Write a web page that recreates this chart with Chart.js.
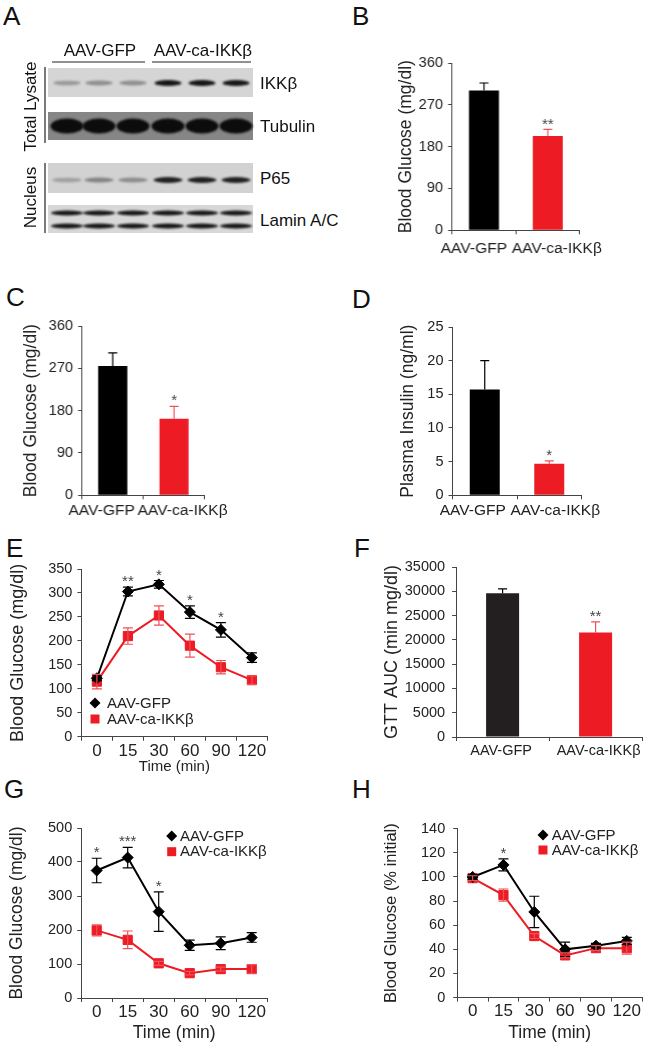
<!DOCTYPE html>
<html>
<head>
<meta charset="utf-8">
<script src="https://cdn.jsdelivr.net/npm/chart.js@4.4.1/dist/chart.umd.min.js"></script>
<style>
  body { margin: 0; background: #fff; }
  #page { position: relative; width: 650px; height: 1048px; overflow: hidden;
          font-family: "Liberation Sans", Arial, sans-serif; color: #111; }
  .box { position: absolute; }
  .txt { position: absolute; white-space: nowrap; line-height: 1; }
</style>
</head>
<body>
<div id="page"></div>
<script>
// ---- data ----
const groups = ['AAV-GFP', 'AAV-ca-IKKβ'];
const timeLabels = ['0', '15', '30', '60', '90', '120'];

// B: blood glucose
const glucoseB = [301, 203];
const glucoseBErr = [16, 14];
const starsB = ['', '**'];

// C: blood glucose
const glucoseC = [275, 163];
const glucoseCErr = [28, 26];
const starsC = ['', '*'];

// D: plasma insulin
const insulinD = [15.7, 4.7];
const insulinDErr = [4.3, 0.4];
const starsD = ['', '*'];

// E: glucose tolerance
const gttGfp = [122, 303, 318, 260, 223, 165];
const gttGfpErr = [5, 9, 8, 13, 15, 10];
const gttCa = [115, 210, 253, 190, 145, 118];
const gttCaErr = [15, 17, 20, 24, 14, 9];
const starsE = ['', '**', '*', '*', '*', ''];

// F: GTT area under curve
const aucF = [29600, 21500];
const aucFErr = [900, 2200];
const starsF = ['', '**'];

// G: insulin tolerance
const ittGfp = [375, 413, 254, 155, 161, 178];
const ittGfpErr = [36, 30, 58, 15, 19, 14];
const ittCa = [199, 171, 102, 73, 85, 85];
const ittCaErr = [16, 26, 6, 5, 6, 13];
const starsG = ['*', '***', '*', '', '', ''];

// H: insulin tolerance, % initial
const ittPctGfp = [100, 110, 71, 40, 43, 47];
const ittPctGfpErr = [2, 5, 13, 6, 2, 3];
const ittPctCa = [99, 85, 51, 35, 41, 41];
const ittPctCaErr = [2, 5, 2, 2, 2, 5];
const starsH = ['', '*', '', '', '', ''];

// A: western blot band intensities per lane (3 GFP, 3 ca-IKKβ)
const bandIKK = [0.3, 0.35, 0.35, 0.95, 0.95, 0.95];
const bandTubulin = [1, 1, 1, 1, 1, 1];
const bandP65 = [0.25, 0.4, 0.35, 0.9, 0.9, 0.9];
const bandLamin = [0.95, 0.95, 0.95, 0.95, 0.95, 0.95];

const BLACK = '#000000';
const RED = '#ed1c24';
const RED_ERR = '#f0505a';
const AXIS = '#444';
const FONT = '"Liberation Sans", Arial, sans-serif';
Chart.defaults.font.family = FONT;
Chart.defaults.color = '#222';

const page = document.getElementById('page');

function addText(str, x, y, size, opts = {}) {
  const d = document.createElement('div');
  d.className = 'txt';
  d.textContent = str;
  d.style.fontSize = size + 'px';
  if (opts.rotate) {
    d.style.width = '300px';
    d.style.textAlign = 'center';
    d.style.left = (x - 150) + 'px';
    d.style.top = (y - size * 0.5) + 'px';
    d.style.transform = 'rotate(-90deg)';
  } else if (opts.center) {
    d.style.width = '200px';
    d.style.textAlign = 'center';
    d.style.left = (x - 100) + 'px';
    d.style.top = (y - size * 0.49) + 'px';
  } else {
    d.style.left = x + 'px';
    d.style.top = (y - size * 0.49) + 'px';
  }
  page.appendChild(d);
}

// panel letters (x, baseline)
[['A', 3, 25], ['B', 352, 25], ['C', 6, 306], ['D', 352, 308],
 ['E', 6, 557], ['F', 354, 557], ['G', 4, 798], ['H', 352, 798]].forEach(([t, x, b]) => {
  addText(t, x, b - 0.36 * 26, 26);
});

// ---- panel A: blot ----
const laneX = [67, 99, 133, 168, 202, 236];
const blots = [
  {y0: 68, y1: 97, bg: '#d5d5d5', bands: [{y: 83, h: 6, w: 27, v: bandIKK}]},
  {y0: 112, y1: 140, bg: '#868686', bands: [{y: 126, h: 15, w: 33, v: bandTubulin}]},
  {y0: 163, y1: 193, bg: '#d2d2d2', bands: [{y: 180, h: 6, w: 29, v: bandP65}]},
  {y0: 205, y1: 233, bg: '#d8d8d8', bands: [{y: 213, h: 5, w: 32, v: bandLamin}, {y: 226, h: 5, w: 32, v: bandLamin}]}
];
(function drawBlot() {
  const c = document.createElement('canvas');
  c.width = 260; c.height = 250;
  c.className = 'box';
  c.style.left = '0px'; c.style.top = '0px';
  page.appendChild(c);
  const ctx = c.getContext('2d');
  blots.forEach(b => {
    ctx.fillStyle = b.bg;
    ctx.fillRect(48, b.y0, 205, b.y1 - b.y0);
    b.bands.forEach(band => {
      ctx.save();
      ctx.filter = 'blur(1.2px)';
      laneX.forEach((x, i) => {
        const v = band.v[i];
        ctx.fillStyle = 'rgba(12,12,12,' + v + ')';
        ctx.beginPath();
        ctx.ellipse(x, band.y, band.w / 2, band.h / 2 * (0.7 + 0.3 * v), 0, 0, Math.PI * 2);
        ctx.fill();
      });
      ctx.restore();
    });
  });
  ctx.strokeStyle = '#222';
  ctx.lineWidth = 1.2;
  ctx.beginPath();
  ctx.moveTo(52, 62); ctx.lineTo(145, 62);
  ctx.moveTo(152, 62); ctx.lineTo(251, 62);
  ctx.moveTo(45, 67); ctx.lineTo(45, 143);
  ctx.moveTo(45, 163); ctx.lineTo(45, 233);
  ctx.stroke();
})();
addText(groups[0], 100, 50, 17, {center: true});
addText(groups[1], 203, 50, 17, {center: true});
addText('IKKβ', 260, 83, 17);
addText('Tubulin', 260, 126, 17);
addText('P65', 260, 178, 17);
addText('Lamin A/C', 260, 220, 17);
addText('Total Lysate', 30, 106, 17, {rotate: true});
addText('Nucleus', 30, 197, 17, {rotate: true});

// ---- plugins ----
// error bars: one-sided (up) on bars, both sides on line points
const errorBars = {
  id: 'errorBars',
  afterDatasetsDraw(chart) {
    const ctx = chart.ctx;
    const y = chart.scales.y;
    chart.data.datasets.forEach((ds, i) => {
      if (!ds.err) return;
      const meta = chart.getDatasetMeta(i);
      ctx.save();
      ctx.lineWidth = 1.2;
      meta.data.forEach((el, j) => {
        const v = ds.data[j], e = ds.err[j];
        ctx.strokeStyle = Array.isArray(ds.errColor) ? ds.errColor[j] : ds.errColor;
        const x = el.x;
        const top = y.getPixelForValue(v + e);
        const bot = ds.errBoth ? y.getPixelForValue(v - e) : y.getPixelForValue(v);
        const cap = ds.cap / 2;
        ctx.beginPath();
        ctx.moveTo(x, bot); ctx.lineTo(x, top);
        ctx.moveTo(x - cap, top); ctx.lineTo(x + cap, top);
        if (ds.errBoth) { ctx.moveTo(x - cap, bot); ctx.lineTo(x + cap, bot); }
        ctx.stroke();
      });
      ctx.restore();
    });
  }
};

const stars = {
  id: 'stars',
  afterDatasetsDraw(chart, args, opts) {
    if (!opts.labels) return;
    const ctx = chart.ctx;
    const y = chart.scales.y;
    const meta0 = chart.getDatasetMeta(0);
    ctx.save();
    ctx.fillStyle = '#444';
    ctx.font = '15px ' + FONT;
    ctx.textAlign = 'center';
    ctx.textBaseline = 'alphabetic';
    opts.labels.forEach((s, j) => {
      if (!s) return;
      let top = Infinity;
      chart.data.datasets.forEach(ds => {
        top = Math.min(top, y.getPixelForValue(ds.data[j] + (ds.err ? ds.err[j] : 0)));
      });
      ctx.fillText(s, meta0.data[j].x, top - 9.5 + 0.57 * 15);
    });
    ctx.restore();
  }
};

// category names under the bars, nudged apart as in the figure
const catLabels = {
  id: 'catLabels',
  afterDraw(chart, args, opts) {
    if (!opts.offsets) return;
    const ctx = chart.ctx;
    const x = chart.scales.x;
    ctx.save();
    ctx.fillStyle = '#222';
    ctx.font = opts.size + 'px ' + FONT;
    ctx.textAlign = 'center';
    ctx.textBaseline = 'middle';
    chart.data.labels.forEach((lab, j) => {
      ctx.fillText(lab, x.getPixelForValue(j) + opts.offsets[j], chart.chartArea.bottom + opts.dy);
    });
    ctx.restore();
  }
};

const insetLegend = {
  id: 'insetLegend',
  afterDraw(chart, args, opts) {
    if (!opts.x) return;
    const ctx = chart.ctx;
    const left = chart.canvas.parentNode.offsetLeft;
    const topOff = chart.canvas.parentNode.offsetTop;
    ctx.save();
    ctx.font = opts.size + 'px ' + FONT;
    ctx.textBaseline = 'middle';
    chart.data.datasets.forEach((ds, i) => {
      const cx = opts.x - left, cy = opts.y + i * opts.gap - topOff;
      ctx.fillStyle = ds.backgroundColor;
      ctx.beginPath();
      if (ds.pointStyle === 'rectRot') {
        ctx.moveTo(cx - 5.5, cy); ctx.lineTo(cx, cy - 5.5); ctx.lineTo(cx + 5.5, cy); ctx.lineTo(cx, cy + 5.5);
      } else {
        ctx.rect(cx - 4.5, cy - 4.5, 9, 9);
      }
      ctx.closePath();
      ctx.fill();
      ctx.fillStyle = '#222';
      ctx.fillText(ds.label, opts.textX - left, cy + 0.5);
    });
    ctx.restore();
  }
};

// ---- chart builder ----
function panel(plot, yt, xH, build) {
  const left = yt.x - 0.6 * yt.size;
  const top = plot.t - 16;
  const right = plot.r + 26;
  const div = document.createElement('div');
  div.className = 'box';
  div.style.left = left + 'px';
  div.style.top = top + 'px';
  div.style.width = (right - left) + 'px';
  div.style.height = (plot.b + xH - top) + 'px';
  const canvas = document.createElement('canvas');
  div.appendChild(canvas);
  page.appendChild(div);
  const cfg = build();
  cfg.options.responsive = true;
  cfg.options.maintainAspectRatio = false;
  cfg.options.animation = false;
  cfg.options.layout = {padding: {left: 0, top: 16, right: 26, bottom: 0}};
  const ys = cfg.options.scales.y;
  ys.title = {display: true, text: yt.text, font: {size: yt.size, lineHeight: 1.2}, padding: 0, color: '#222'};
  ys.afterFit = s => { s.width = plot.l - left; };
  cfg.options.scales.x.afterFit = s => { s.height = xH; };
  cfg.plugins = [errorBars, stars, catLabels, insetLegend];
  return new Chart(canvas, cfg);
}

function yAxis(min, max, step, pad) {
  return {
    min: min, max: max,
    ticks: {stepSize: step, font: {size: 14.5}, padding: pad, callback: v => String(v)},
    grid: {drawOnChartArea: false, drawTicks: true, tickLength: 4, color: AXIS},
    border: {color: AXIS, width: 1}
  };
}

function xAxis(size, pad, title, titleSize) {
  const ax = {
    offset: true,
    ticks: {font: {size: size}, padding: pad, maxRotation: 0, autoSkip: false},
    grid: {offset: true, drawOnChartArea: false, drawTicks: true, tickLength: 4, color: AXIS},
    border: {color: AXIS, width: 1}
  };
  if (title) ax.title = {display: true, text: title, font: {size: titleSize, lineHeight: 1.2}, padding: 0, color: '#222'};
  return ax;
}

function barChart(values, errs, starLabels, yMax, step, yPad, labelOpts, barPct, darkColor) {
  const x = xAxis(labelOpts.size, 0);
  x.ticks.display = false;
  return {
    type: 'bar',
    data: {
      labels: groups,
      datasets: [{
        data: values,
        err: errs,
        errColor: [BLACK, RED_ERR],
        backgroundColor: [darkColor, RED],
        barPercentage: barPct,
        categoryPercentage: 1,
        cap: 9
      }]
    },
    options: {
      plugins: {legend: {display: false}, tooltip: {enabled: false},
                stars: {labels: starLabels}, catLabels: labelOpts},
      scales: {x: x, y: yAxis(0, yMax, step, yPad)}
    }
  };
}

function lineChart(gfp, gfpErr, ca, caErr, starLabels, yMax, step, yPad, xTitleSize, legend) {
  return {
    type: 'line',
    data: {
      labels: timeLabels,
      datasets: [
        {label: groups[0], data: gfp, err: gfpErr, errBoth: true, errColor: BLACK, cap: 10,
         borderColor: BLACK, backgroundColor: BLACK, borderWidth: 2, tension: 0,
         pointStyle: 'rectRot', pointRadius: 5.5, pointBorderWidth: 1, pointBackgroundColor: BLACK, pointBorderColor: BLACK},
        {label: groups[1], data: ca, err: caErr, errBoth: true, errColor: RED_ERR, cap: 10,
         borderColor: RED, backgroundColor: RED, borderWidth: 2, tension: 0,
         pointStyle: 'rect', pointRadius: 6.5, pointBorderWidth: 1, pointBackgroundColor: RED, pointBorderColor: RED}
      ]
    },
    options: {
      plugins: {legend: {display: false}, tooltip: {enabled: false}, stars: {labels: starLabels}, insetLegend: legend},
      scales: {x: xAxis(17, 0, 'Time (min)', xTitleSize), y: yAxis(0, yMax, step, yPad)}
    }
  };
}

// B
panel({l: 452, t: 62.7, r: 579, b: 230}, {x: 406.7, size: 17.5, text: 'Blood Glucose (mg/dl)'}, 40,
  () => barChart(glucoseB, glucoseBErr, starsB, 360, 90, 5, {offsets: [-10, 9], dy: 18, size: 15.5}, 0.47, BLACK));
// C
panel({l: 82, t: 325.7, r: 204, b: 495}, {x: 31.7, size: 17.5, text: 'Blood Glucose (mg/dl)'}, 36,
  () => barChart(glucoseC, glucoseCErr, starsC, 360, 90, 5, {offsets: [-11, 8.5], dy: 15, size: 15.5}, 0.475, BLACK));
// D
panel({l: 452, t: 326.7, r: 581, b: 495}, {x: 408, size: 17.5, text: 'Plasma Insulin (ng/ml)'}, 36,
  () => barChart(insulinD, insulinDErr, starsD, 25, 5, 5, {offsets: [-12, 6], dy: 15, size: 15.5}, 0.465, BLACK));
// E
panel({l: 81, t: 569, r: 267, b: 736.7}, {x: 17.4, size: 18, text: 'Blood Glucose (mg/dl)'}, 39.3,
  () => lineChart(gttGfp, gttGfpErr, gttCa, gttCaErr, starsE, 350, 50, 5, 15,
    {x: 95, textX: 107, y: 703, gap: 16, size: 15}));
// F
panel({l: 456, t: 566.7, r: 642, b: 736.7}, {x: 391.7, size: 18, text: 'GTT AUC (min mg/dl)'}, 36,
  () => barChart(aucF, aucFErr, starsF, 35000, 5000, 7, {offsets: [-1.5, 3], dy: 13.5, size: 14.5}, 0.355, '#231f20'));
// G
panel({l: 81, t: 828.3, r: 267, b: 998.3}, {x: 17.3, size: 17.5, text: 'Blood Glucose (mg/dl)'}, 45.2,
  () => lineChart(ittGfp, ittGfpErr, ittCa, ittCaErr, starsG, 500, 100, 5, 17.5,
    {x: 171.7, textX: 180, y: 836, gap: 15.7, size: 15}));
// H
panel({l: 457, t: 827.7, r: 642, b: 997.3}, {x: 391.7, size: 16.5, text: 'Blood Glucose (% initial)'}, 46.2,
  () => lineChart(ittPctGfp, ittPctGfpErr, ittPctCa, ittPctCaErr, starsH, 140, 20, 8, 17.5,
    {x: 543, textX: 551.7, y: 835, gap: 15, size: 15}));
</script>
</body>
</html>
